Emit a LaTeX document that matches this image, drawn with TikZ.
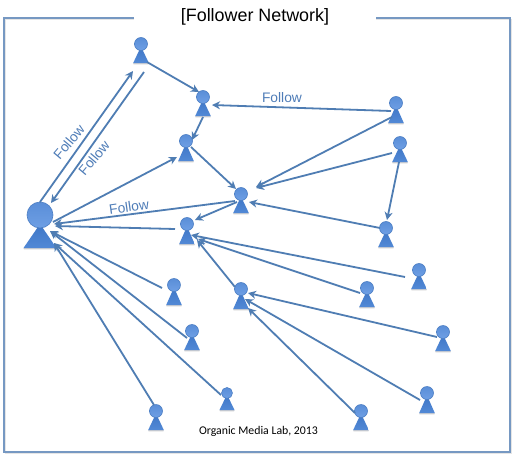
\documentclass[tikz,border=0pt]{standalone}
\usepackage{fontspec}
\setmainfont{Liberation Sans}
\newfontfamily\footfont{Carlito}
\usetikzlibrary{arrows.meta}
\definecolor{linkblue}{HTML}{4F7DB3}
\definecolor{framecol}{HTML}{7698C2}
\definecolor{labelblue}{HTML}{4F7DB8}
\tikzset{
  link/.style={draw=linkblue,line width=1.8,-{Stealth[length=8,width=8,inset=2.5]},shorten >=0},
  framelines/.style={draw=framecol,line width=1.2,line cap=butt},
  frameshadow/.style={draw=black!10,line width=1.2},
  head/.style={circle,inner sep=0,draw=HeadRim,line width=.6,top color=HeadTop,bottom color=HeadBot},
  flabel/.style={text=labelblue,font=\fontsize{13.8}{15}\selectfont,inner sep=0},
}
\definecolor{HeadRim}{HTML}{4D7FC4}
\definecolor{HeadTop}{HTML}{5A8ED8}
\definecolor{HeadBot}{HTML}{6E9FE4}
\definecolor{TriTop}{HTML}{3E76C6}
\definecolor{TriBot}{HTML}{5289D6}
% name, x, y, head radius, base y, half width
\newcommand{\person}[6]{%
  \fill[black!18] (#2-#6,#5) -- (#2+#6,#5) -- (#2+#6-.4,#5+1.4) -- (#2-#6+.4,#5+1.4) -- cycle;
  \shade[top color=TriTop,bottom color=TriBot] (#2,#3+#4-4) -- (#2+#6,#5) -- (#2-#6,#5) -- cycle;
  \node[head,minimum size=2*#4] (#1) at (#2,#3) {};
}
\newcommand{\conn}[4]{\draw[link] ([shift={(#2)}]#1.center) -- ([shift={(#4)}]#3.center);}
\begin{document}
\begin{tikzpicture}[x=1pt,y=-1pt]
\useasboundingbox (0,0) rectangle (514,458);
\fill[white] (0,0) rectangle (514,458);
% frame
\draw[frameshadow] (134,19.4) -- (5.4,19.4) -- (5.4,453.4) -- (511.4,453.4) -- (511.4,19.4) -- (376,19.4);
\draw[framelines] (134,18) -- (4,18) -- (4,452) -- (510,452) -- (510,18) -- (376,18);
% people
\person{Big}{40}{215}{13}{248}{16.5}
\person{A}{141}{44}{6.5}{63}{7.8}
\person{B}{203}{97}{6.5}{116}{7.8}
\person{C}{186}{141}{6.5}{161}{7.8}
\person{D}{241}{194}{6.5}{213}{7.8}
\person{E}{187}{224}{6.5}{244}{7.8}
\person{F}{396}{103}{6.5}{123}{7.8}
\person{G}{400}{143}{6.5}{162}{7.8}
\person{H}{386}{228}{6.5}{247}{7.8}
\person{I}{174}{285}{6.5}{305}{7.8}
\person{J}{192}{331}{6.5}{350}{7.8}
\person{K}{227}{393}{5.5}{410}{7.5}
\person{L}{156}{411}{6.5}{430}{7.8}
\person{M}{241}{289}{6.5}{309}{7.8}
\person{N}{419}{270}{6.5}{289}{7.8}
\person{O}{367}{288}{6.5}{307}{7.8}
\person{P}{443}{332}{6.5}{351}{7.8}
\person{Q}{427}{393}{6.5}{413}{7.8}
\person{R}{361}{411}{6.5}{430}{7.8}
% connectors
\conn{Big}{0,-13}{A}{-8,27}
\conn{A}{3,28}{Big}{11,-12}
\conn{A}{6,18}{B}{-4,-5}
\conn{B}{0,20}{C}{6,-1}
\conn{F}{-5,8}{B}{9,8}
\conn{Big}{13,7}{C}{-9,16}
\conn{C}{5,6}{D}{-5,-5}
\conn{D}{-6,7}{Big}{14,9}
\conn{D}{-4,8}{E}{8,-4}
\conn{F}{-4,14}{D}{15,-7}
\conn{G}{-8,10}{D}{15,-6}
\conn{H}{-6,0}{D}{8,8}
\conn{G}{-1,19}{H}{1,-8}
\conn{E}{-12,5}{Big}{15,11}
\conn{N}{-14,7}{E}{4,11}
\conn{O}{-7,5}{E}{11,15}
\conn{M}{-6,-2}{E}{10,16}
\conn{P}{-6,5}{M}{7,4}
\conn{Q}{-7,7}{M}{4,10}
\conn{R}{-6,2}{M}{7,19}
\conn{I}{-12,3}{Big}{10,16}
\conn{J}{-5,7}{Big}{10,16}
\conn{K}{-6,2}{Big}{14,28}
\conn{L}{-2,-6}{Big}{14,28}
% labels
\node[flabel,rotate=50] (f1) at (69,142) {Follow};
\node[flabel,rotate=50] (f2) at (94,158) {Follow};
\node[flabel,rotate=8] (f3) at (129,207) {Follow};
\node[flabel] (f4) at (282,98) {Follow};
\node[inner sep=0,font=\fontsize{17.9}{20}\selectfont] (title) at (255,17) {[Follower Network]};
\node[inner sep=0,font=\footfont\fontsize{11.8}{14}\selectfont] (credit) at (258.5,431) {Organic Media Lab, 2013};
\end{tikzpicture}
\end{document}
